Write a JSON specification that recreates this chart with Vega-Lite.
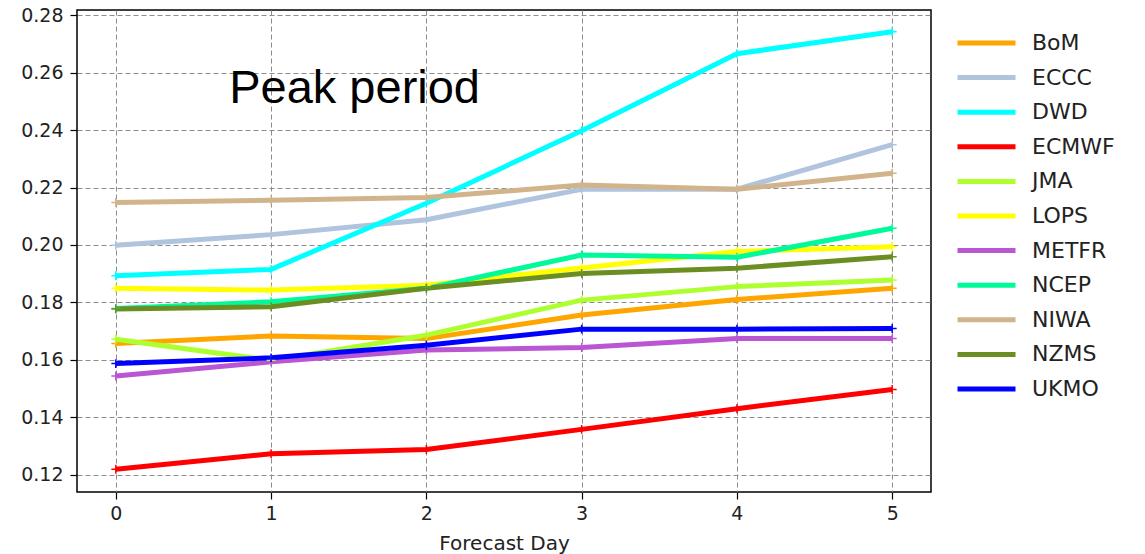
{
  "$schema": "https://vega.github.io/schema/vega-lite/v6.json",
  "width": 854,
  "height": 482,
  "autosize": {"type": "none"},
  "padding": {"left": 77, "top": 10, "right": 214, "bottom": 62},
  "background": "white",
  "config": {
    "view": {"stroke": "black", "strokeWidth": 1.5},
    "axis": {
      "domain": false,
      "grid": true,
      "gridColor": "#8c8c8c",
      "gridDash": [5, 3],
      "gridWidth": 1,
      "ticks": true,
      "tickColor": "black",
      "tickSize": 7,
      "tickWidth": 1.2,
      "labelFont": "DejaVu Sans",
      "labelFontSize": 19,
      "labelColor": "#222222",
      "titleFont": "DejaVu Sans",
      "titleFontSize": 20,
      "titleFontWeight": "normal",
      "titleColor": "#222222"
    },
    "legend": {
      "labelFont": "DejaVu Sans",
      "labelFontSize": 22,
      "labelColor": "#222222"
    }
  },
  "datasets": {
    "scores": [
      {"centre": "BoM", "day": 0, "score": 0.1657},
      {"centre": "BoM", "day": 1, "score": 0.1683},
      {"centre": "BoM", "day": 2, "score": 0.1674},
      {"centre": "BoM", "day": 3, "score": 0.1756},
      {"centre": "BoM", "day": 4, "score": 0.1810},
      {"centre": "BoM", "day": 5, "score": 0.1849},
      {"centre": "ECCC", "day": 0, "score": 0.1999},
      {"centre": "ECCC", "day": 1, "score": 0.2036},
      {"centre": "ECCC", "day": 2, "score": 0.2088},
      {"centre": "ECCC", "day": 3, "score": 0.2194},
      {"centre": "ECCC", "day": 4, "score": 0.2194},
      {"centre": "ECCC", "day": 5, "score": 0.2349},
      {"centre": "DWD", "day": 0, "score": 0.1893},
      {"centre": "DWD", "day": 1, "score": 0.1915},
      {"centre": "DWD", "day": 2, "score": 0.2145},
      {"centre": "DWD", "day": 3, "score": 0.2398},
      {"centre": "DWD", "day": 4, "score": 0.2666},
      {"centre": "DWD", "day": 5, "score": 0.2742},
      {"centre": "ECMWF", "day": 0, "score": 0.1219},
      {"centre": "ECMWF", "day": 1, "score": 0.1273},
      {"centre": "ECMWF", "day": 2, "score": 0.1288},
      {"centre": "ECMWF", "day": 3, "score": 0.1358},
      {"centre": "ECMWF", "day": 4, "score": 0.1430},
      {"centre": "ECMWF", "day": 5, "score": 0.1497},
      {"centre": "JMA", "day": 0, "score": 0.1672},
      {"centre": "JMA", "day": 1, "score": 0.1598},
      {"centre": "JMA", "day": 2, "score": 0.1686},
      {"centre": "JMA", "day": 3, "score": 0.1808},
      {"centre": "JMA", "day": 4, "score": 0.1855},
      {"centre": "JMA", "day": 5, "score": 0.1878},
      {"centre": "LOPS", "day": 0, "score": 0.1849},
      {"centre": "LOPS", "day": 1, "score": 0.1843},
      {"centre": "LOPS", "day": 2, "score": 0.1860},
      {"centre": "LOPS", "day": 3, "score": 0.1920},
      {"centre": "LOPS", "day": 4, "score": 0.1977},
      {"centre": "LOPS", "day": 5, "score": 0.1994},
      {"centre": "METFR", "day": 0, "score": 0.1544},
      {"centre": "METFR", "day": 1, "score": 0.1593},
      {"centre": "METFR", "day": 2, "score": 0.1634},
      {"centre": "METFR", "day": 3, "score": 0.1643},
      {"centre": "METFR", "day": 4, "score": 0.1674},
      {"centre": "METFR", "day": 5, "score": 0.1674},
      {"centre": "NCEP", "day": 0, "score": 0.1779},
      {"centre": "NCEP", "day": 1, "score": 0.1802},
      {"centre": "NCEP", "day": 2, "score": 0.1849},
      {"centre": "NCEP", "day": 3, "score": 0.1965},
      {"centre": "NCEP", "day": 4, "score": 0.1957},
      {"centre": "NCEP", "day": 5, "score": 0.2058},
      {"centre": "NIWA", "day": 0, "score": 0.2148},
      {"centre": "NIWA", "day": 1, "score": 0.2156},
      {"centre": "NIWA", "day": 2, "score": 0.2165},
      {"centre": "NIWA", "day": 3, "score": 0.2209},
      {"centre": "NIWA", "day": 4, "score": 0.2194},
      {"centre": "NIWA", "day": 5, "score": 0.2250},
      {"centre": "NZMS", "day": 0, "score": 0.1777},
      {"centre": "NZMS", "day": 1, "score": 0.1785},
      {"centre": "NZMS", "day": 2, "score": 0.1849},
      {"centre": "NZMS", "day": 3, "score": 0.1901},
      {"centre": "NZMS", "day": 4, "score": 0.1919},
      {"centre": "NZMS", "day": 5, "score": 0.1959},
      {"centre": "UKMO", "day": 0, "score": 0.1587},
      {"centre": "UKMO", "day": 1, "score": 0.1607},
      {"centre": "UKMO", "day": 2, "score": 0.1651},
      {"centre": "UKMO", "day": 3, "score": 0.1707},
      {"centre": "UKMO", "day": 4, "score": 0.1707},
      {"centre": "UKMO", "day": 5, "score": 0.1709}
    ]
  },
  "layer": [
    {
      "data": {"name": "scores"},
      "mark": {"type": "line", "strokeWidth": 5, "strokeJoin": "round"},
      "encoding": {
        "x": {
          "field": "day",
          "type": "quantitative",
          "scale": {"domain": [-0.25, 5.25], "nice": false, "zero": false},
          "axis": {"values": [0, 1, 2, 3, 4, 5], "format": "d", "title": "Forecast Day", "labelPadding": 5, "titlePadding": 10}
        },
        "y": {
          "field": "score",
          "type": "quantitative",
          "scale": {"domain": [0.114, 0.2818], "nice": false, "zero": false},
          "axis": {"values": [0.12, 0.14, 0.16, 0.18, 0.2, 0.22, 0.24, 0.26, 0.28], "format": ".2f", "title": null, "labelPadding": 7}
        },
        "color": {
          "field": "centre",
          "type": "nominal",
          "sort": null,
          "scale": {
            "domain": ["BoM", "ECCC", "DWD", "ECMWF", "JMA", "LOPS", "METFR", "NCEP", "NIWA", "NZMS", "UKMO"],
            "range": ["#FFA500", "#B0C4DE", "#00FFFF", "#FF0000", "#ADFF2F", "#FFFF00", "#BA55D3", "#00FA9A", "#D2B48C", "#6B8E23", "#0000FF"]
          },
          "legend": {
            "title": null,
            "orient": "none",
            "legendX": 878,
            "legendY": 18,
            "padding": 0,
            "symbolType": "stroke",
            "symbolSize": 3364,
            "symbolStrokeWidth": 5,
            "clipHeight": 30,
            "rowPadding": 4.6,
            "labelOffset": 14
          }
        }
      }
    },
    {
      "data": {"name": "scores"},
      "mark": {"type": "point", "shape": "M-1,0L1,0M0,-1L0,1", "filled": false, "size": 80, "strokeWidth": 1.5, "opacity": 1},
      "encoding": {
        "x": {"field": "day", "type": "quantitative"},
        "y": {"field": "score", "type": "quantitative"},
        "stroke": {
          "field": "centre",
          "type": "nominal",
          "scale": {
            "domain": ["BoM", "ECCC", "DWD", "ECMWF", "JMA", "LOPS", "METFR", "NCEP", "NIWA", "NZMS", "UKMO"],
            "range": ["#FFA500", "#B0C4DE", "#00FFFF", "#FF0000", "#ADFF2F", "#FFFF00", "#BA55D3", "#00FA9A", "#D2B48C", "#6B8E23", "#0000FF"]
          },
          "legend": null
        }
      }
    },
    {
      "data": {"values": [{"note": "Peak period"}]},
      "mark": {"type": "text", "font": "Liberation Sans", "fontSize": 47, "align": "left", "baseline": "alphabetic", "color": "black"},
      "encoding": {
        "text": {"field": "note"},
        "x": {"datum": 0.73},
        "y": {"datum": 0.2495}
      }
    }
  ]
}
